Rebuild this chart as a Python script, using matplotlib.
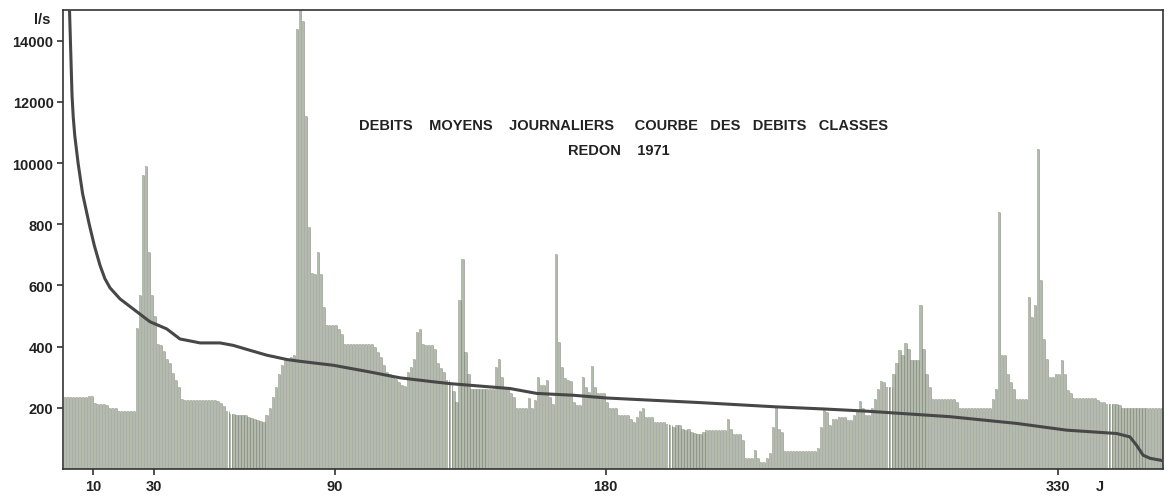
import numpy as np
import matplotlib
matplotlib.use("Agg")
import matplotlib.pyplot as plt

# daily mean discharge, Redon 1971 (one value per day, l/s)
daily = [
    236, 235, 234, 234, 235, 235, 234, 236, 238, 240,
    215, 214, 214, 212, 210, 200, 200, 198, 190, 189,
    189, 190, 189, 190, 460, 570, 960, 990, 710, 570,
    500, 410, 405, 385, 360, 345, 315, 290, 268, 228,
    226, 225, 225, 226, 225, 224, 225, 225, 226, 225,
    224, 223, 215, 205, 190, 180, 179, 178, 178, 176,
    175, 170, 168, 165, 160, 158, 155, 176, 198, 236,
    268, 312, 340, 355, 361, 365, 372, 1438, 1560, 1465,
    1155, 790, 640, 638, 709, 638, 530, 470, 470, 470,
    470, 459, 442, 410, 410, 410, 410, 410, 410, 410,
    410, 410, 410, 399, 383, 366, 339, 317, 312, 305,
    295, 285, 274, 270, 317, 334, 361, 448, 459, 410,
    404, 404, 404, 393, 345, 330, 317, 290, 280, 255,
    220, 551, 687, 383, 312, 263, 263, 263, 263, 263,
    263, 263, 263, 334, 361, 301, 268, 268, 250, 236,
    198, 198, 198, 198, 232, 198, 225, 301, 274, 276,
    290, 236, 214, 703, 415, 334, 296, 290, 287, 219,
    209, 210, 301, 268, 252, 337, 268, 247, 247, 247,
    219, 198, 198, 198, 176, 176, 176, 176, 165, 154,
    170, 189, 200, 170, 170, 170, 154, 154, 154, 154,
    148, 143, 138, 143, 143, 132, 127, 132, 122, 118,
    116, 116, 120, 127, 127, 127, 127, 127, 127, 127,
    165, 132, 116, 116, 116, 94, 35, 35, 35, 62,
    35, 24, 24, 35, 51, 138, 203, 132, 122, 60,
    60, 60, 60, 60, 60, 60, 60, 60, 60, 60,
    67, 138, 192, 187, 143, 165, 165, 170, 170, 170,
    160, 160, 176, 192, 222, 198, 176, 176, 198, 230,
    263, 287, 285, 268, 268, 312, 345, 388, 374, 412,
    393, 355, 355, 355, 535, 393, 312, 268, 230, 230,
    230, 230, 230, 230, 230, 230, 219, 198, 198, 198,
    198, 198, 198, 198, 198, 198, 198, 198, 230, 263,
    840, 372, 372, 312, 285, 263, 230, 230, 230, 230,
    562, 497, 535, 1046, 617, 426, 361, 301, 301, 312,
    312, 355, 312, 257, 247, 233, 233, 233, 233, 233,
    233, 233, 233, 225, 219, 219, 214, 214, 214, 214,
    209, 198, 198, 198, 198, 198, 198, 198, 198, 198,
    198, 198, 198, 198, 198,
]

# flow duration curve (days exceeded, l/s)
curve_days = [2.0, 2.3, 2.6, 2.9, 3.3, 3.8, 4.9, 6.4, 8.6, 10.3, 12.2,
              13.8, 15.5, 18.8, 23.2, 28.8, 34.3, 38.7, 45.4, 52, 56.4,
              61.9, 67.5, 74.1, 78.5, 89.6, 100.7, 111.7, 122.8, 128.3,
              148.2, 157.1, 169.2, 180.3, 194.7, 211.3, 236.7, 252.7, 266.6,
              294.2, 316.3, 332.9, 349.5, 353.9, 356.1, 358.3, 360.6, 365]
curve_flow = [1520, 1420, 1320, 1220, 1150, 1090, 1000, 900, 800, 730, 665,
              622, 592, 556, 523, 481, 458, 425, 412, 412, 404,
              388, 372, 358, 352, 339, 319, 298, 285, 279,
              263, 247, 241, 232, 225, 217, 203, 196, 189,
              171, 149, 127, 116, 105, 78, 45, 35, 27]

x_ticks = [10, 30, 90, 180, 330]
y_ticks = [200, 400, 600, 800, 1000, 1200, 1400]
y_labels = ["200", "400", "600", "800", "10000", "12000", "14000"]

plt.rcParams["font.family"] = ["Liberation Sans", "DejaVu Sans"]

fig = plt.figure(figsize=(11.67, 5.02), dpi=100)
ax = fig.add_axes([63.3 / 1167, 32 / 502, 1100 / 1167, 459 / 502])

days = np.arange(1, len(daily) + 1)
vals = np.array(daily)

# day bars, light strips with a thin darker right edge
ax.bar(days - 0.55, vals, width=0.72, color="#b3bbad", linewidth=0, zorder=2)
ax.vlines(days - 0.18, 0, vals, color="#7c7f78", lw=0.45, zorder=2)

ax.plot(curve_days, curve_flow, color="#474747", lw=2.2, zorder=3,
        solid_capstyle="round", solid_joinstyle="round")

ax.set_xlim(0, 365)
ax.set_ylim(0, 1500)

ax.set_xticks(x_ticks)
ax.set_xticklabels([str(t) for t in x_ticks])
ax.set_yticks(y_ticks)
ax.set_yticklabels(y_labels)
ax.tick_params(axis="both", direction="out", length=4, width=1.2,
               color="#333333", labelsize=10.5, pad=3)
for lab in ax.get_xticklabels() + ax.get_yticklabels():
    lab.set_fontweight("bold")
    lab.set_color("#222222")

for sp in ax.spines.values():
    sp.set_color("#333333")
    sp.set_linewidth(1.2)

ax.text(-0.012, 0.980, "l/s", transform=ax.transAxes, ha="right", va="center",
        fontsize=10.5, fontweight="bold", color="#222222")
ax.text(344, -0.022, "J", transform=ax.get_xaxis_transform(), ha="center",
        va="top", fontsize=10.5, fontweight="bold", color="#222222")

ax.text(0.509, 0.749,
        "DEBITS    MOYENS    JOURNALIERS     COURBE   DES   DEBITS   CLASSES",
        transform=ax.transAxes, ha="center", va="center", fontsize=10.5,
        fontweight="bold", color="#222222")
ax.text(0.505, 0.695, "REDON    1971", transform=ax.transAxes, ha="center",
        va="center", fontsize=10.5, fontweight="bold", color="#222222")

fig.savefig("out.png", dpi=100)
